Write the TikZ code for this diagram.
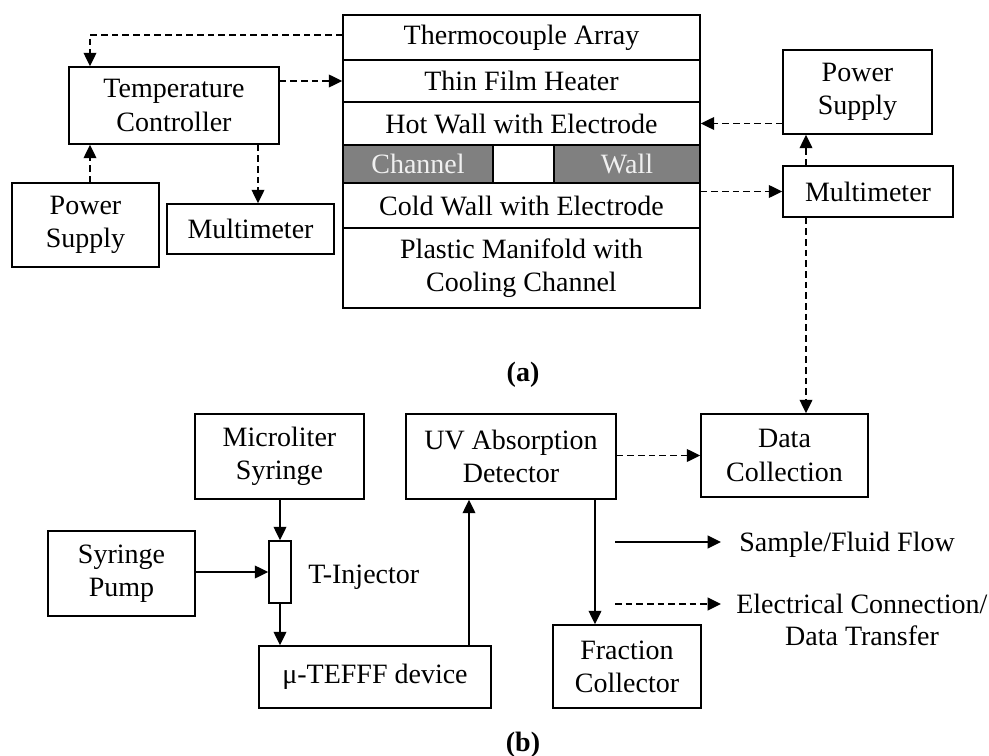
\documentclass[tikz,border=0pt]{standalone}
\usepackage{fontspec}
\setmainfont{Liberation Serif}
\usetikzlibrary{arrows.meta,calc}
\definecolor{cellgray}{RGB}{128,128,128}
\definecolor{celltext}{RGB}{240,240,240}
\tikzset{
  box/.style={draw, line width=1.2pt, inner sep=0pt, align=center, font=\mainfs},
  cell/.style={box, minimum width=267.75pt},
  graycell/.style={draw, line width=1.2pt, fill=cellgray, inner sep=0pt, text=celltext, font=\mainfs, minimum height=28.5pt},
  flow/.style={line width=1.2pt, -{Triangle[length=10pt,width=9.5pt]}},
  elec/.style={line width=1.2pt, dash pattern=on 5pt off 3pt, -{Triangle[length=10pt,width=9.5pt]}},
  lbl/.style={inner sep=0pt, font=\mainfs},
}
\newcommand{\mainfs}{\fontsize{21}{24.8}\selectfont}
\begin{document}
\begin{tikzpicture}[x=0.75pt,y=-0.75pt]
\useasboundingbox (0,0) rectangle (989,756);

% ---- (a) layered cell stack ----
\node[cell, minimum height=33.75pt] (thermo) at (521.5,37.5) {Thermocouple Array};
\node[cell, minimum height=31.5pt]  (heater) at (521.5,81)   {Thin Film Heater};
\node[cell, minimum height=32.25pt] (hot)    at (521.5,123.5) {Hot Wall with Electrode};
\node[box, minimum width=267.75pt, minimum height=28.5pt] (chrow) at (521.5,164) {};
\node[graycell, minimum width=112.5pt] (chan) at (418,164) {Channel};
\node[graycell, minimum width=109.5pt] (wall) at (627,164) {Wall};
\node[cell, minimum height=33.75pt] (cold)   at (521.5,205.5) {Cold Wall with Electrode};
\node[cell, minimum height=60pt]    (manif)  at (521.5,268) {Plastic Manifold with\\Cooling Channel};

% ---- (a) instruments ----
\node[box, minimum width=157.5pt, minimum height=57.75pt] (tc)  at (174,105.5) {Temperature\\Controller};
\node[box, minimum width=110.25pt, minimum height=63pt]   (psL) at (85.5,225)  {Power\\Supply};
\node[box, minimum width=125.25pt, minimum height=37.5pt] (mmL) at (250.5,229) {Multimeter};
\node[box, minimum width=111.75pt, minimum height=63pt]   (psR) at (857.5,92)  {Power\\Supply};
\node[box, minimum width=127.5pt, minimum height=38.25pt] (mmR) at (868,191.5) {Multimeter};

\node[lbl, font=\mainfs\bfseries] (capa) at (523,375) {(a)};

% ---- (b) flow system ----
\node[box, minimum width=126.75pt, minimum height=63.75pt] (ms)  at (279.5,456.5) {Microliter\\Syringe};
\node[box, minimum width=157.5pt, minimum height=63.75pt]  (uv)  at (511,456.5)  {UV Absorption\\Detector};
\node[box, minimum width=125.25pt, minimum height=62.25pt] (dc)  at (784.5,455.5) {Data\\Collection};
\node[box, minimum width=110.25pt, minimum height=63.75pt] (sp)  at (121.5,573.5) {Syringe\\Pump};
\node[box, minimum width=16.5pt, minimum height=46.5pt]    (inj) at (280,572) {};
\node[lbl, anchor=west] (injl) at (308,577) {T-Injector};
\node[box, minimum width=174pt, minimum height=46.5pt]     (dev) at (375,677) {μ-TEFFF device};
\node[box, minimum width=111pt, minimum height=62.25pt]    (fc)  at (627,666.5) {Fraction\\Collector};

\node[lbl, font=\mainfs\bfseries] (capb) at (523,745) {(b)};

% ---- legend ----
\coordinate (lg1a) at (615,542);
\coordinate (lg1b) at (721,542);
\coordinate (lg2a) at (615,604);
\coordinate (lg2b) at (721,604);
\node[lbl, anchor=west] (lgt1) at (739,545) {Sample/Fluid Flow};
\node[lbl, anchor=west] (lgt2) at (736,604) {Electrical Connection/};
\node[lbl] (lgt3) at (862,636) {Data Transfer};
\draw[flow] (lg1a) -- (lg1b);
\draw[elec] (lg2a) -- (lg2b);

% ---- (a) electrical links ----
\coordinate (xl) at (90,0);
\coordinate (xm) at (258,0);
\coordinate (xr) at (806,0);
\draw[elec] (thermo.west |- 0,35) -| (tc.north -| xl);
\draw[elec] (tc.east |- heater.west) -- (heater.west);
\draw[elec] (psL.north -| xl) -- (tc.south -| xl);
\draw[elec] (tc.south -| xm) -- (mmL.north -| xm);
\draw[elec] (psR.west |- hot.east) -- (hot.east);
\draw[elec] (cold.east |- mmR.west) -- (mmR.west);
\draw[elec] (mmR.north -| xr) -- (psR.south -| xr);
\draw[elec] (mmR.south -| xr) -- (dc.north -| xr);

% ---- (b) links ----
\coordinate (xu) at (469,0);
\coordinate (xf) at (595,0);
\draw[elec] (uv.east |- dc.west) -- (dc.west);
\draw[flow] (ms.south -| inj.north) -- (inj.north);
\draw[flow] (sp.east |- inj.west) -- (inj.west);
\draw[flow] (inj.south) -- (dev.north -| inj.south);
\draw[flow] (dev.north -| xu) -- (uv.south -| xu);
\draw[flow] (uv.south -| xf) -- (fc.north -| xf);
\end{tikzpicture}
\end{document}
